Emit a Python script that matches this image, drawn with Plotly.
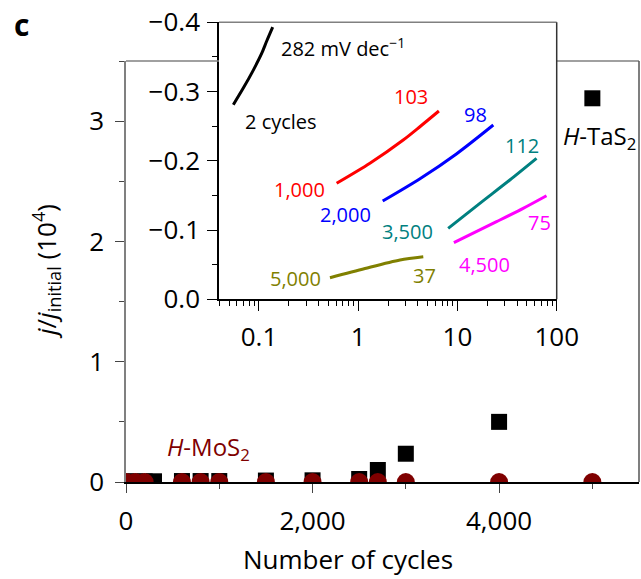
import plotly.graph_objects as go

W, H = 641, 579

# ---- main panel data: normalized current vs. number of cycles (x10^4) ----
cycles_tas2 = [2, 100, 200, 300, 600, 800, 1000, 1500, 2000, 2500, 2700, 3000, 4000, 5000]
ratio_tas2 = [0.005, 0.005, 0.005, 0.006, 0.008, 0.008, 0.008, 0.012, 0.014, 0.025, 0.10, 0.235, 0.50, 3.19]
cycles_mos2 = [2, 100, 200, 600, 800, 1000, 1500, 2000, 2500, 2700, 3000, 4000, 5000]
ratio_mos2 = [0, 0, 0, 0, 0, 0, 0, 0, 0, 0, 0, 0, 0]

main_xticks = [0, 2000, 4000]
main_yticks = [0, 1, 2, 3]

# ---- inset data: Tafel lines (current density, potential V) ----
tafel_2_x = [0.0551, 0.0695, 0.0877, 0.1064, 0.1197, 0.1374]
tafel_2_y = [-0.281, -0.305, -0.331, -0.355, -0.373, -0.393]
tafel_1000_x = [0.606, 1.311, 2.84, 4.18, 6.50]
tafel_1000_y = [-0.1675, -0.1964, -0.2300, -0.2492, -0.2719]
tafel_2000_x = [1.765, 4.19, 9.83, 22.97]
tafel_2000_y = [-0.1419, -0.1741, -0.2103, -0.2517]
tafel_3500_x = [8.06, 16.81, 33.7, 62.6]
tafel_3500_y = [-0.1025, -0.1386, -0.1723, -0.2036]
tafel_4500_x = [9.2, 24.76, 45.9, 78.9]
tafel_4500_y = [-0.0817, -0.1121, -0.1314, -0.1496]
tafel_5000_x = [0.519, 1.170, 2.636, 4.525]
tafel_5000_y = [-0.0312, -0.0445, -0.0568, -0.0615]

inset_xticks = [0.1, 1, 10, 100]
inset_xlabels = ["0.1", "1", "10", "100"]
inset_yticks = [0.0, -0.1, -0.2, -0.3, -0.4]

series = [
    ("2 cycles", tafel_2_x, tafel_2_y, "black"),
    ("1,000", tafel_1000_x, tafel_1000_y, "#ff0000"),
    ("2,000", tafel_2000_x, tafel_2000_y, "#0000ff"),
    ("3,500", tafel_3500_x, tafel_3500_y, "#008080"),
    ("4,500", tafel_4500_x, tafel_4500_y, "#ff00ff"),
    ("5,000", tafel_5000_x, tafel_5000_y, "#808000"),
]

FONT = "Open Sans"


def px(x):
    return x / W


def py(y):
    return 1 - y / H


fig = go.Figure()

fig.add_trace(go.Scatter(x=cycles_tas2, y=ratio_tas2, mode="markers",
                         marker=dict(symbol="square", size=16, color="black", line=dict(width=0)),
                         xaxis="x", yaxis="y", showlegend=False))
fig.add_trace(go.Scatter(x=cycles_mos2, y=ratio_mos2, mode="markers",
                         marker=dict(symbol="circle", size=18, color="#7f0000", line=dict(width=0)),
                         xaxis="x", yaxis="y", showlegend=False))

for name, xs, ys, col in series:
    fig.add_trace(go.Scatter(x=xs, y=ys, mode="lines", line=dict(color=col, width=3, shape="spline", smoothing=0.8),
                             xaxis="x2", yaxis="y2", showlegend=False))

tickfont = dict(family=FONT, size=26, color="black")

fig.update_layout(
    template="none",
    width=W, height=H,
    margin=dict(l=0, r=0, t=0, b=0, pad=0),
    paper_bgcolor="white", plot_bgcolor="white",
    font=dict(family=FONT, color="black"),
    xaxis=dict(domain=[px(126), px(639)], range=[0, 5500], anchor="y", automargin=False,
               tickvals=main_xticks, tickformat=",d", ticks="outside", ticklen=9,
               tickcolor="#444", showline=True, linecolor="black", linewidth=1.5,
               showgrid=False, zeroline=False, tickfont=tickfont, ticklabelstandoff=6,
               minor=dict(dtick=1000, ticks="outside", ticklen=5, tickcolor="#444", showgrid=False)),
    yaxis=dict(domain=[py(482), py(61)], range=[0, 3.5], anchor="x", automargin=False,
               tickvals=main_yticks, ticks="outside", ticklen=9,
               tickcolor="#444", showline=True, linecolor="#808080", linewidth=1.5,
               showgrid=False, zeroline=False, tickfont=tickfont, ticklabelstandoff=6,
               minor=dict(dtick=0.5, ticks="outside", ticklen=5, tickcolor="#444", showgrid=False)),
    xaxis2=dict(domain=[px(219), px(556.7)], type="log", range=[-1.403, 2.0], anchor="y2", automargin=False,
                tickvals=inset_xticks, ticktext=inset_xlabels, ticks="outside", ticklen=10,
                tickcolor="black", showline=True, linecolor="black", linewidth=1.5,
                showgrid=False, zeroline=False, tickfont=tickfont, ticklabelstandoff=4,
                minor=dict(dtick="D1", ticks="outside", ticklen=5, tickcolor="black", showgrid=False)),
    yaxis2=dict(domain=[py(299.3), py(22.3)], range=[0, -0.4], anchor="x2", automargin=False,
                tickvals=inset_yticks, tickformat=".1f", ticks="outside", ticklen=10,
                tickcolor="black", showline=True, linecolor="black", linewidth=1.5,
                showgrid=False, zeroline=False, tickfont=tickfont, ticklabelstandoff=2,
                minor=dict(dtick=0.05, ticks="outside", ticklen=5, tickcolor="black", showgrid=False)),
)

# frame borders
shapes = [
    dict(type="line", xref="paper", yref="paper", x0=px(126), x1=px(219), y0=py(61), y1=py(61),
         line=dict(color="#808080", width=1.5)),
    dict(type="line", xref="paper", yref="paper", x0=px(556.7), x1=px(639), y0=py(61), y1=py(61),
         line=dict(color="#808080", width=1.5)),
    dict(type="line", xref="paper", yref="paper", x0=px(639), x1=px(639), y0=py(61), y1=py(482),
         line=dict(color="#555", width=1.5)),
    dict(type="line", xref="paper", yref="paper", x0=px(219), x1=px(556.7), y0=py(22.3), y1=py(22.3),
         line=dict(color="#808080", width=1.5)),
    dict(type="line", xref="paper", yref="paper", x0=px(556.7), x1=px(556.7), y0=py(22.3), y1=py(299.3),
         line=dict(color="#333", width=1.5)),
]
fig.update_layout(shapes=shapes)

ann = []


def add_text(text, x, y, size, color="black", xanchor="left", angle=0):
    ann.append(dict(text=text, x=px(x), y=py(y), xref="paper", yref="paper", showarrow=False,
                    xanchor=xanchor, yanchor="middle", textangle=angle,
                    font=dict(family=FONT, size=size, color=color)))


add_text("<b>c</b>", 12, 24, 30)
add_text("Number of cycles", 348, 559, 26, xanchor="center")
add_text("<i>j</i>/<i>j</i><sub>initial</sub> (10<sup>4</sup>)", 46, 272, 26, xanchor="center", angle=-90)
add_text("<i>H</i>-TaS<sub>2</sub>", 561, 137, 24)
add_text("<i>H</i>-MoS<sub>2</sub>", 165, 448, 24, color="#7f0000")

# inset labels
add_text("282 mV dec<sup>\u22121</sup>", 279, 48, 20)
add_text("2 cycles", 243, 121, 20)
add_text("103", 411, 96, 20, color="#ff0000", xanchor="center")
add_text("1,000", 327, 189, 20, color="#ff0000", xanchor="right")
add_text("98", 475, 114, 20, color="#0000ff", xanchor="center")
add_text("2,000", 373, 214, 20, color="#0000ff", xanchor="right")
add_text("112", 522, 145, 20, color="#008080", xanchor="center")
add_text("3,500", 435, 232, 20, color="#008080", xanchor="right")
add_text("75", 539, 222, 20, color="#ff00ff", xanchor="center")
add_text("4,500", 457, 264, 20, color="#ff00ff")
add_text("5,000", 323, 279, 20, color="#808000", xanchor="right")
add_text("37", 424, 276, 20, color="#808000", xanchor="center")

fig.update_layout(annotations=ann)

fig.write_html("out.html")
